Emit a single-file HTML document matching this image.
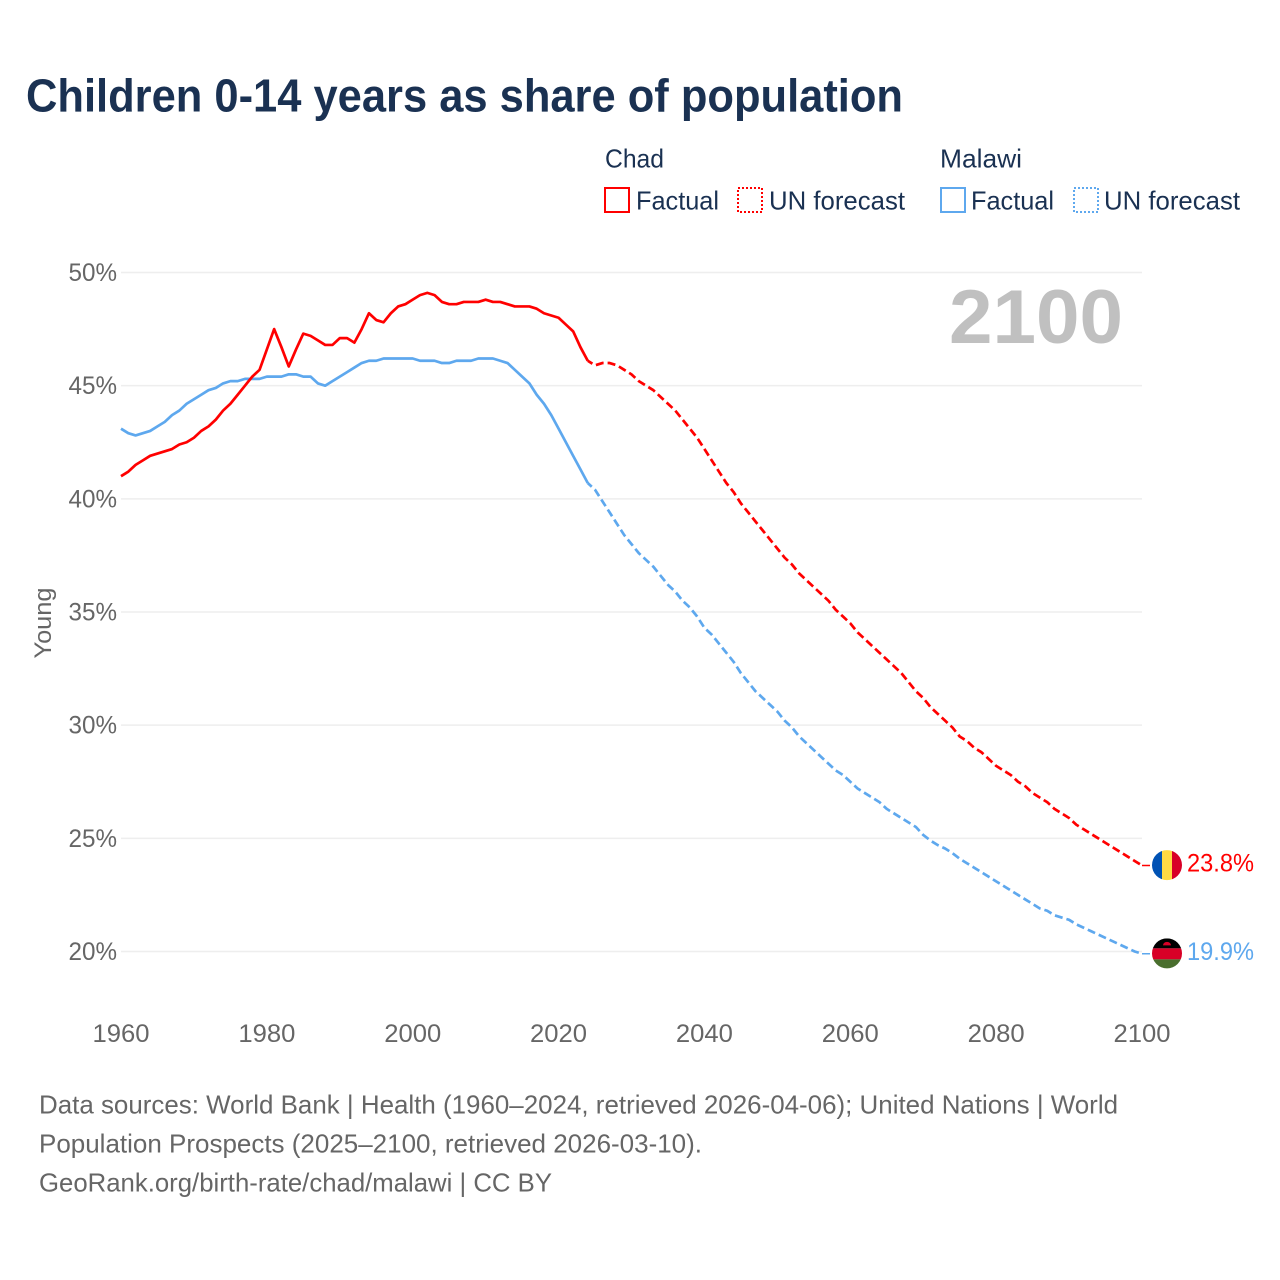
<!DOCTYPE html>
<html lang="en">
<head>
<meta charset="utf-8">
<title>Children 0-14 years as share of population</title>
<style>
html,body{margin:0;padding:0;background:#fff;}
svg{display:block;}
text{font-family:"Liberation Sans",sans-serif;}
</style>
</head>
<body>
<svg id="chart" xmlns="http://www.w3.org/2000/svg" width="1280" height="1280" viewBox="0 0 1280 1280">
  <rect x="0" y="0" width="1280" height="1280" fill="#fff"/>
  <text x="26" y="111.5" font-size="46" font-weight="700" fill="#1a3152" textLength="877" lengthAdjust="spacingAndGlyphs">Children 0-14 years as share of population</text>

  <g font-size="26" fill="#1a3152">
    <text x="605" y="167.5" textLength="59" lengthAdjust="spacingAndGlyphs">Chad</text>
    <text x="940" y="167.5" textLength="82" lengthAdjust="spacingAndGlyphs">Malawi</text>
    <rect x="605" y="188" width="24" height="24" fill="none" stroke="#ff0000" stroke-width="2"/>
    <text x="636" y="209.5" textLength="83" lengthAdjust="spacingAndGlyphs">Factual</text>
    <rect x="738" y="188" width="24" height="24" fill="none" stroke="#ff0000" stroke-width="2" stroke-dasharray="2 2"/>
    <text x="769" y="209.5" textLength="136" lengthAdjust="spacingAndGlyphs">UN forecast</text>
    <rect x="941" y="188" width="24" height="24" fill="none" stroke="#5ea8ee" stroke-width="2"/>
    <text x="971" y="209.5" textLength="83" lengthAdjust="spacingAndGlyphs">Factual</text>
    <rect x="1074" y="188" width="24" height="24" fill="none" stroke="#5ea8ee" stroke-width="2" stroke-dasharray="2 2"/>
    <text x="1104" y="209.5" textLength="136" lengthAdjust="spacingAndGlyphs">UN forecast</text>
  </g>

  <g id="grid"></g>
  <g id="yticks"></g>
  <g id="xticks"></g>

  <text transform="translate(51,623) rotate(-90)" text-anchor="middle" font-size="24" fill="#666" textLength="71" lengthAdjust="spacingAndGlyphs">Young</text>
  <text x="949" y="343" font-size="76" font-weight="700" fill="#c0c0c0" textLength="174" lengthAdjust="spacingAndGlyphs">2100</text>

  <g id="series"></g>

  <defs>
    <clipPath id="clip-chad"><circle cx="1167" cy="865" r="15"/></clipPath>
    <clipPath id="clip-malawi"><circle cx="1167" cy="953" r="15"/></clipPath>
  </defs>
  <g id="flag-chad">
    <g clip-path="url(#clip-chad)">
      <rect x="1152" y="840" width="10" height="50" fill="#0052b4"/>
      <rect x="1162" y="840" width="10" height="50" fill="#ffda44"/>
      <rect x="1172" y="840" width="10" height="50" fill="#d80027"/>
    </g>
  </g>
  <g id="flag-malawi">
    <g clip-path="url(#clip-malawi)">
      <rect x="1152" y="938" width="30" height="10" fill="#000"/>
      <rect x="1152" y="948" width="30" height="11" fill="#d80027"/>
      <rect x="1152" y="959" width="30" height="10" fill="#496e2d"/>
      <path d="M1163 945a4 3.5 0 0 1 8 0z" fill="#d80027"/>
    </g>
  </g>

  <text id="end-chad" x="1187" y="872" font-size="25" fill="#ff0000" textLength="67" lengthAdjust="spacingAndGlyphs"></text>
  <text id="end-malawi" x="1187" y="960" font-size="25" fill="#5ea8ee" textLength="67" lengthAdjust="spacingAndGlyphs"></text>

  <g font-size="26" fill="#666">
    <text x="39" y="1113.3" textLength="1079" lengthAdjust="spacingAndGlyphs">Data sources: World Bank | Health (1960–2024, retrieved 2026-04-06); United Nations | World</text>
    <text x="39" y="1152.3" textLength="663" lengthAdjust="spacingAndGlyphs">Population Prospects (2025–2100, retrieved 2026-03-10).</text>
    <text x="39" y="1191.3" textLength="513" lengthAdjust="spacingAndGlyphs">GeoRank.org/birth-rate/chad/malawi | CC BY</text>
  </g>
</svg>
<script>
const xTickYears = [1960, 1980, 2000, 2020, 2040, 2060, 2080, 2100];
const yTickValues = [20, 25, 30, 35, 40, 45, 50];
const factualStartYear = 1960;
const forecastStartYear = 2024;

const chadFactual = [41.0,41.2,41.5,41.7,41.9,42.0,42.1,42.2,42.4,42.5,42.7,43.0,43.2,43.5,43.9,44.2,44.6,45.0,45.4,45.7,46.6,47.5,46.7,45.85,46.6,47.3,47.2,47.0,46.8,46.8,47.1,47.1,46.9,47.5,48.2,47.9,47.8,48.2,48.5,48.6,48.8,49.0,49.1,49.0,48.7,48.6,48.6,48.7,48.7,48.7,48.8,48.7,48.7,48.6,48.5,48.5,48.5,48.4,48.2,48.1,48.0,47.7,47.4,46.7,46.1];
const chadForecast = [46.1,45.9,46.0,46.0,45.9,45.7,45.5,45.2,45.0,44.8,44.5,44.2,43.9,43.5,43.1,42.7,42.2,41.7,41.2,40.7,40.3,39.8,39.4,39.0,38.6,38.2,37.8,37.4,37.1,36.7,36.4,36.1,35.8,35.5,35.1,34.8,34.5,34.1,33.8,33.5,33.2,32.9,32.6,32.3,31.9,31.5,31.2,30.8,30.5,30.2,29.9,29.5,29.3,29.0,28.8,28.5,28.2,28.0,27.8,27.5,27.3,27.0,26.8,26.6,26.3,26.1,25.9,25.6,25.4,25.2,25.0,24.8,24.6,24.4,24.2,24.0,23.8];
const malawiFactual = [43.1,42.9,42.8,42.9,43.0,43.2,43.4,43.7,43.9,44.2,44.4,44.6,44.8,44.9,45.1,45.2,45.2,45.3,45.3,45.3,45.4,45.4,45.4,45.5,45.5,45.4,45.4,45.1,45.0,45.2,45.4,45.6,45.8,46.0,46.1,46.1,46.2,46.2,46.2,46.2,46.2,46.1,46.1,46.1,46.0,46.0,46.1,46.1,46.1,46.2,46.2,46.2,46.1,46.0,45.7,45.4,45.1,44.6,44.2,43.7,43.1,42.5,41.9,41.3,40.7];
const malawiForecast = [40.7,40.4,39.9,39.4,38.9,38.4,38.0,37.6,37.3,37.0,36.6,36.2,35.9,35.5,35.2,34.8,34.3,34.0,33.6,33.2,32.8,32.3,31.9,31.5,31.2,30.9,30.6,30.2,29.9,29.5,29.2,28.9,28.6,28.3,28.0,27.8,27.5,27.2,27.0,26.8,26.6,26.3,26.1,25.9,25.7,25.5,25.15,24.9,24.7,24.55,24.35,24.1,23.9,23.7,23.5,23.3,23.1,22.9,22.7,22.5,22.3,22.1,21.9,21.8,21.6,21.5,21.4,21.2,21.05,20.9,20.75,20.6,20.45,20.3,20.15,20.0,19.9];

const SVG_NS = 'http://www.w3.org/2000/svg';
const RED = '#ff0000';
const BLUE = '#5ea8ee';

function xScale(year) { return 121 + (year - 1960) * (1021 / 140); }
function yScale(value) { return 951.5 - (value - 20) * (679 / 30); }

function pathFor(values, startYear) {
  return values.map(function (v, i) {
    return (i ? 'L' : 'M') + xScale(startYear + i).toFixed(2) + ' ' + yScale(v).toFixed(2);
  }).join('');
}

const gridGroup = document.getElementById('grid');
const yTickGroup = document.getElementById('yticks');
const xTickGroup = document.getElementById('xticks');
const seriesGroup = document.getElementById('series');

yTickValues.forEach(function (v) {
  const line = document.createElementNS(SVG_NS, 'line');
  
  
  line.setAttribute('x1', xScale(1960));
  line.setAttribute('x2', xScale(2100));
  line.setAttribute('y1', yScale(v));
  line.setAttribute('y2', yScale(v));
  line.setAttribute('stroke', '#eeeeee');
  line.setAttribute('stroke-width', '1.5');
  gridGroup.appendChild(line);

  const label = document.createElementNS(SVG_NS, 'text');
  
  
  label.setAttribute('x', 117);
  label.setAttribute('y', yScale(v) + 8.5);
  label.setAttribute('text-anchor', 'end');
  label.setAttribute('font-size', '25');
  label.setAttribute('fill', '#666');
  label.setAttribute('textLength', '48.5');
  label.setAttribute('lengthAdjust', 'spacingAndGlyphs');
  label.textContent = v + '%';
  yTickGroup.appendChild(label);
});

xTickYears.forEach(function (year) {
  const label = document.createElementNS(SVG_NS, 'text');
  
  
  label.setAttribute('x', xScale(year));
  label.setAttribute('y', 1042);
  label.setAttribute('text-anchor', 'middle');
  label.setAttribute('font-size', '25');
  label.setAttribute('fill', '#666');
  label.setAttribute('textLength', '57');
  label.setAttribute('lengthAdjust', 'spacingAndGlyphs');
  label.textContent = String(year);
  xTickGroup.appendChild(label);
});

function addLine(name, values, startYear, color, dashed) {
  const path = document.createElementNS(SVG_NS, 'path');
  
  
  path.setAttribute('d', pathFor(values, startYear));
  path.setAttribute('fill', 'none');
  path.setAttribute('stroke', color);
  path.setAttribute('stroke-width', '2.7');
  path.setAttribute('stroke-linejoin', 'round');
  if (dashed) {
    path.setAttribute('stroke-dasharray', '8 4');
    path.setAttribute('stroke-dashoffset', '2.5');
  }
  seriesGroup.appendChild(path);
}

addLine('line-malawi-factual', malawiFactual, factualStartYear, BLUE, false);
addLine('line-malawi-forecast', malawiForecast, forecastStartYear, BLUE, true);
addLine('line-chad-factual', chadFactual, factualStartYear, RED, false);
addLine('line-chad-forecast', chadForecast, forecastStartYear, RED, true);

function addEnd(key, values, color) {
  const last = values[values.length - 1];
  const y = yScale(last);
  const conn = document.createElementNS(SVG_NS, 'line');
  
  
  conn.setAttribute('x1', xScale(2100));
  conn.setAttribute('x2', 1150);
  conn.setAttribute('y1', y);
  conn.setAttribute('y2', y);
  conn.setAttribute('stroke', color);
  conn.setAttribute('stroke-width', '1.5');
  seriesGroup.appendChild(conn);

  const label = document.getElementById('end-' + key);
  label.setAttribute('y', y + 6);
  label.textContent = last.toFixed(1) + '%';

  const baseY = key === 'chad' ? 865 : 953;
  document.getElementById('flag-' + key).setAttribute('transform', 'translate(0,' + (y - baseY - 0.4) + ')');
}

addEnd('chad', chadForecast, RED);
addEnd('malawi', malawiForecast, BLUE);
</script>
</body>
</html>
